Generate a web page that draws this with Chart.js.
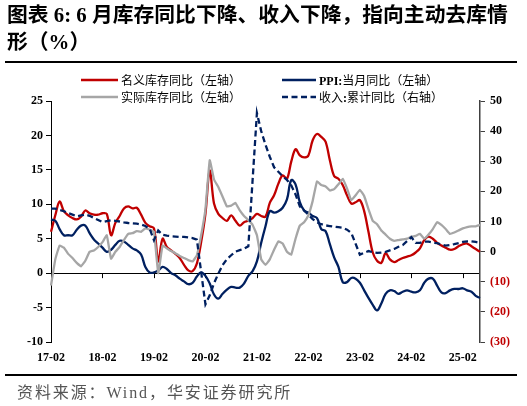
<!DOCTYPE html>
<html>
<head>
<meta charset="utf-8">
<script src="https://cdn.jsdelivr.net/npm/chart.js@4.4.1/dist/chart.umd.min.js"></script>
<style>
  html, body { margin: 0; padding: 0; background: #fff; }
  body { width: 527px; height: 406px; position: relative; overflow: hidden; }
  #chart { position: absolute; left: 0; top: 0; }
  .title {
    position: absolute; left: 7px; top: 1px; white-space: nowrap;
    font: bold 20.8px/27px "Liberation Serif", "Noto Sans CJK SC", serif; color: #000;
  }
  .rule { position: absolute; left: 5px; width: 512px; height: 1.5px; background: #000; }
  .legend { position: absolute; font: 12px "Liberation Serif", "Noto Sans CJK SC", serif; color: #000; }
  .legend-item { position: absolute; display: flex; align-items: center; white-space: nowrap; height: 16px; }
  .legend-item svg { margin-right: 3px; }
  .legend-item b { font-weight: bold; }
  .source {
    position: absolute; left: 17px; top: 379px; white-space: nowrap;
    font: 16px "Liberation Serif", "Noto Sans CJK SC", serif; color: #555; letter-spacing: 1.9px;
  }
</style>
</head>
<body>
<canvas id="chart" width="527" height="406"></canvas>
<div class="title">图表 6: 6 月库存同比下降、收入下降，指向主动去库情<br>形（%）</div>
<div class="rule" style="top:61px"></div>
<div class="legend" id="legend"></div>
<div class="rule" style="top:374px"></div>
<div class="source">资料来源：Wind，华安证券研究所</div>
<script>
// months 2017-02 .. 2025-06
const startYear = 2017;
const startMonth = 2;
const monthCount = 101;
const categories = [];
for (let k = 0; k < monthCount; k++) {
  const m = startMonth - 1 + k;
  const yy = String(startYear + Math.floor(m / 12)).slice(2);
  const mm = String((m % 12) + 1).padStart(2, "0");
  categories.push(yy + "-" + mm);
}

const leftTicks = [-10, -5, 0, 5, 10, 15, 20, 25];
const rightTicks = [-30, -20, -10, 0, 10, 20, 30, 40, 50];

// 名义库存同比（左轴）
const nominalInventory = [
  6.0, 8.4, 10.4, 9.0, 8.4, 8.0, 7.8, 8.2, 9.1, 8.7, 8.5,
  8.5, 8.7, 8.6, 5.5, 7.3, 8.3, 9.4, 9.7, 9.4, 9.5, 8.5, 7.3,
  6.8, 6.5, 1.7, 5.0, 3.8, 3.3, 2.8, 2.2, 1.2, 0.4, 0.3, 1.4,
  4.5, 8.6, 14.9, 10.1, 8.6, 8.0, 7.6, 8.4, 7.6, 6.9, 7.4, 7.6,
  8.0, 8.6, 8.3, 8.2, 10.2, 11.3, 13.0, 14.2, 13.7, 16.2, 18.0, 17.1,
  16.8, 17.1, 19.3, 20.2, 19.8, 19.1, 16.4, 14.1, 13.7, 12.8, 11.3, 10.1,
  10.3, 10.6, 9.0, 6.0, 3.0, 1.8, 1.5, 2.9, 2.0, 1.6, 1.9, 2.2,
  2.4, 2.6, 3.0, 3.6, 4.8, 5.3, 5.0, 4.4, 4.0, 3.7, 3.4, 3.5,
  3.9, 4.2, 4.3, 3.9, 3.5, 3.1
];

// PPI:当月同比（左轴）
const ppiYoy = [
  7.8, 7.6, 6.4, 5.5, 5.5, 5.5, 6.3, 6.9, 6.9, 5.8, 4.9,
  4.3, 3.7, 3.1, 3.4, 4.1, 4.7, 4.6, 4.1, 3.6, 3.3, 2.7, 0.9,
  0.1, 0.1, 0.4, 0.9, 0.6, 0.0, -0.3, -0.8, -1.2, -1.6, -1.4, -0.5,
  0.1, -0.4, -1.5, -3.1, -3.7, -3.0, -2.4, -2.0, -2.1, -2.1, -1.5, -0.4,
  0.3, 1.7, 4.4, 6.8, 9.0, 8.8, 9.0, 9.5, 10.7, 13.5, 12.9, 10.3,
  9.1, 8.8, 8.3, 8.0, 6.4, 6.1, 4.2, 2.3, 0.9, -1.3, -1.3, -0.7,
  -0.8, -1.4, -2.5, -3.6, -4.6, -5.4, -4.4, -3.0, -2.5, -2.6, -3.0, -2.7,
  -2.5, -2.7, -2.8, -2.5, -1.4, -0.8, -0.8, -1.8, -2.8, -2.9, -2.5, -2.3,
  -2.3, -2.2, -2.5, -2.7, -3.3, -3.6
];

// 实际库存同比（左轴）
const realInventory = [
  -1.8, 2.0, 4.0, 3.7, 2.8, 2.2, 1.5, 1.0, 1.8, 3.1, 3.3,
  3.8, 4.5, 5.5, 2.1, 3.1, 3.8, 4.8, 5.7, 5.8, 6.1, 6.0, 6.5,
  6.3, 6.0, 0.0, 4.0, 3.6, 3.2, 2.9, 2.5, 2.2, 1.9, 1.7, 2.6,
  5.5, 9.3, 16.4, 13.6, 12.5, 11.1, 9.7, 9.8, 10.2, 9.1, 8.3, 7.7,
  7.0, 5.5, 2.0, 1.2, 2.0, 3.4, 4.6, 4.3, 3.1, 2.7, 5.0, 6.9,
  7.4, 8.4, 10.5, 13.3, 12.8, 12.6, 12.0, 12.2, 12.9, 13.7, 12.3, 10.6,
  11.3, 12.1, 11.2, 9.3, 7.6, 7.1, 6.2, 5.6, 5.0, 4.7, 4.8, 4.9,
  5.0, 5.3, 5.4, 5.7, 5.0, 5.6, 6.4, 7.4, 7.0, 6.4, 5.7, 5.9,
  6.2, 6.5, 6.7, 6.8, 6.8, 7.0
];

// 收入:累计同比（右轴），1月无数据
const revenueYtd = [
  14.3, 14.3, 13.8, 13.4, 12.8, 12.3, 11.7, 12.0, 12.3, 11.9, 11.2,
  null, 9.8, 10.1, 10.4, 10.2, 10.0, 9.7, 9.5, 9.4, 9.3, 9.0, 8.5,
  7.6, 3.8, 7.0, 5.6, 5.3, 5.1, 5.0, 4.9, 4.9, 4.7, 4.5, 4.0,
  null, -17.5, -14.5, -10.5, -7.3, -4.5, -2.5, -1.2, 0.0, 0.5, 1.0, 1.8,
  null, 46.0, 40.0, 35.5, 31.5, 28.0, 26.5, 25.0, 23.8, 22.0, 19.0, 15.0,
  null, 12.3, 10.8, 9.7, 9.1, 8.7, 8.5, 8.3, 8.1, 7.9, 7.3, 6.2,
  null, -1.0, -0.4, 0.2, -0.2, -0.4, -0.3, -0.1, 0.4, 0.9, 1.6, 2.2,
  null, 4.8, 2.9, 2.9, 3.3, 3.3, 3.0, 2.8, 2.4, 2.0, 2.2, 2.5,
  null, 3.2, 3.4, 3.4, 3.2, 2.9
];

const RED = "#c00000";
const NAVY = "#002060";
const GRAY = "#a6a6a6";
const TICK_FONT = { family: "'Liberation Serif', 'Noto Sans CJK SC', serif", size: 12, weight: "bold" };

const datasets = [
  { label: "名义库存同比（左轴）", data: nominalInventory, borderColor: RED, yAxisID: "yL", tension: 0.35, order: 4 },
  { label: "PPI:当月同比（左轴）", data: ppiYoy, borderColor: NAVY, yAxisID: "yL", tension: 0.4, order: 3 },
  { label: "实际库存同比（左轴）", data: realInventory, borderColor: GRAY, yAxisID: "yL", tension: 0.1, order: 2 },
  { label: "收入:累计同比（右轴）", data: revenueYtd, borderColor: NAVY, yAxisID: "yR", tension: 0, borderDash: [6, 3.5], spanGaps: true, order: 1 },
].map((d) => Object.assign({ borderWidth: 2.3, pointRadius: 0, fill: false }, d));

// tick marks hanging below the zero line at each "-02" label
const zeroTicksPlugin = {
  id: "zeroTicks",
  beforeDatasetsDraw(chart) {
    const { ctx, scales } = chart;
    const y0 = scales.yL.getPixelForValue(0);
    ctx.save();
    ctx.strokeStyle = "#000";
    ctx.lineWidth = 1;
    categories.forEach((c, i) => {
      if (!c.endsWith("-02") || i === 0) return;
      const x = Math.round(scales.x.getPixelForValue(i)) + 0.5;
      ctx.beginPath();
      ctx.moveTo(x, y0);
      ctx.lineTo(x, y0 + 5);
      ctx.stroke();
    });
    ctx.restore();
  },
};

new Chart(document.getElementById("chart"), {
  type: "line",
  data: { labels: categories, datasets },
  plugins: [zeroTicksPlugin],
  options: {
    responsive: false,
    animation: false,
    layout: { padding: { top: 101, left: 0, right: 0, bottom: 0 } },
    plugins: { legend: { display: false }, tooltip: { enabled: false } },
    scales: {
      x: {
        type: "category",
        offset: false,
        grid: { display: false, drawTicks: false },
        border: { display: false },
        ticks: {
          autoSkip: false,
          maxRotation: 0,
          padding: 9,
          color: "#000",
          font: TICK_FONT,
          callback: (v, i) => (categories[i].endsWith("-02") ? categories[i] : ""),
        },
        afterFit: (s) => { s.height = 64; },
      },
      yL: {
        position: "left",
        min: leftTicks[0],
        max: leftTicks[leftTicks.length - 1],
        afterBuildTicks: (s) => { s.ticks = leftTicks.map((v) => ({ value: v })); },
        grid: {
          color: (c) => (c.tick && c.tick.value === 0 ? "#000" : "rgba(0,0,0,0)"),
          tickColor: "#000",
          tickLength: 5,
          lineWidth: 1,
        },
        border: { display: true, color: "#000", width: 1 },
        ticks: { color: "#000", font: TICK_FONT, padding: 3 },
        afterFit: (s) => { s.width = 51; },
      },
      yR: {
        position: "right",
        min: rightTicks[0],
        max: rightTicks[rightTicks.length - 1],
        afterBuildTicks: (s) => { s.ticks = rightTicks.map((v) => ({ value: v })); },
        grid: { drawOnChartArea: false, tickColor: "#404040", tickLength: 5 },
        border: { display: true, color: "#404040", width: 1.5 },
        ticks: {
          font: TICK_FONT,
          padding: 5,
          color: (c) => (c.tick.value < 0 ? RED : "#000"),
          callback: (v) => (v < 0 ? "(" + Math.abs(v) + ")" : String(v)),
        },
        afterFit: (s) => { s.width = 47; },
      },
    },
  },
});

// legend in two columns, built from the datasets
const legendSpots = [
  { left: 81, top: 72 },
  { left: 282, top: 72 },
  { left: 81, top: 89 },
  { left: 282, top: 89 },
];
const legendBox = document.getElementById("legend");
datasets.forEach((d, i) => {
  const spot = legendSpots[i];
  const len = i % 2 === 0 ? 37 : 34;
  const dash = d.borderDash ? ` stroke-dasharray="${d.borderDash.join(" ")}"` : "";
  const text = d.label.replace(/([A-Za-z:]+)/g, "<b>$1</b>");
  const item = document.createElement("div");
  item.className = "legend-item";
  item.style.left = spot.left + "px";
  item.style.top = spot.top + "px";
  item.innerHTML =
    `<svg width="${len}" height="6"><line x1="0" y1="3" x2="${len}" y2="3" stroke="${d.borderColor}" stroke-width="${d.borderWidth}"${dash}/></svg>` +
    `<span>${text}</span>`;
  legendBox.appendChild(item);
});
</script>
</body>
</html>
